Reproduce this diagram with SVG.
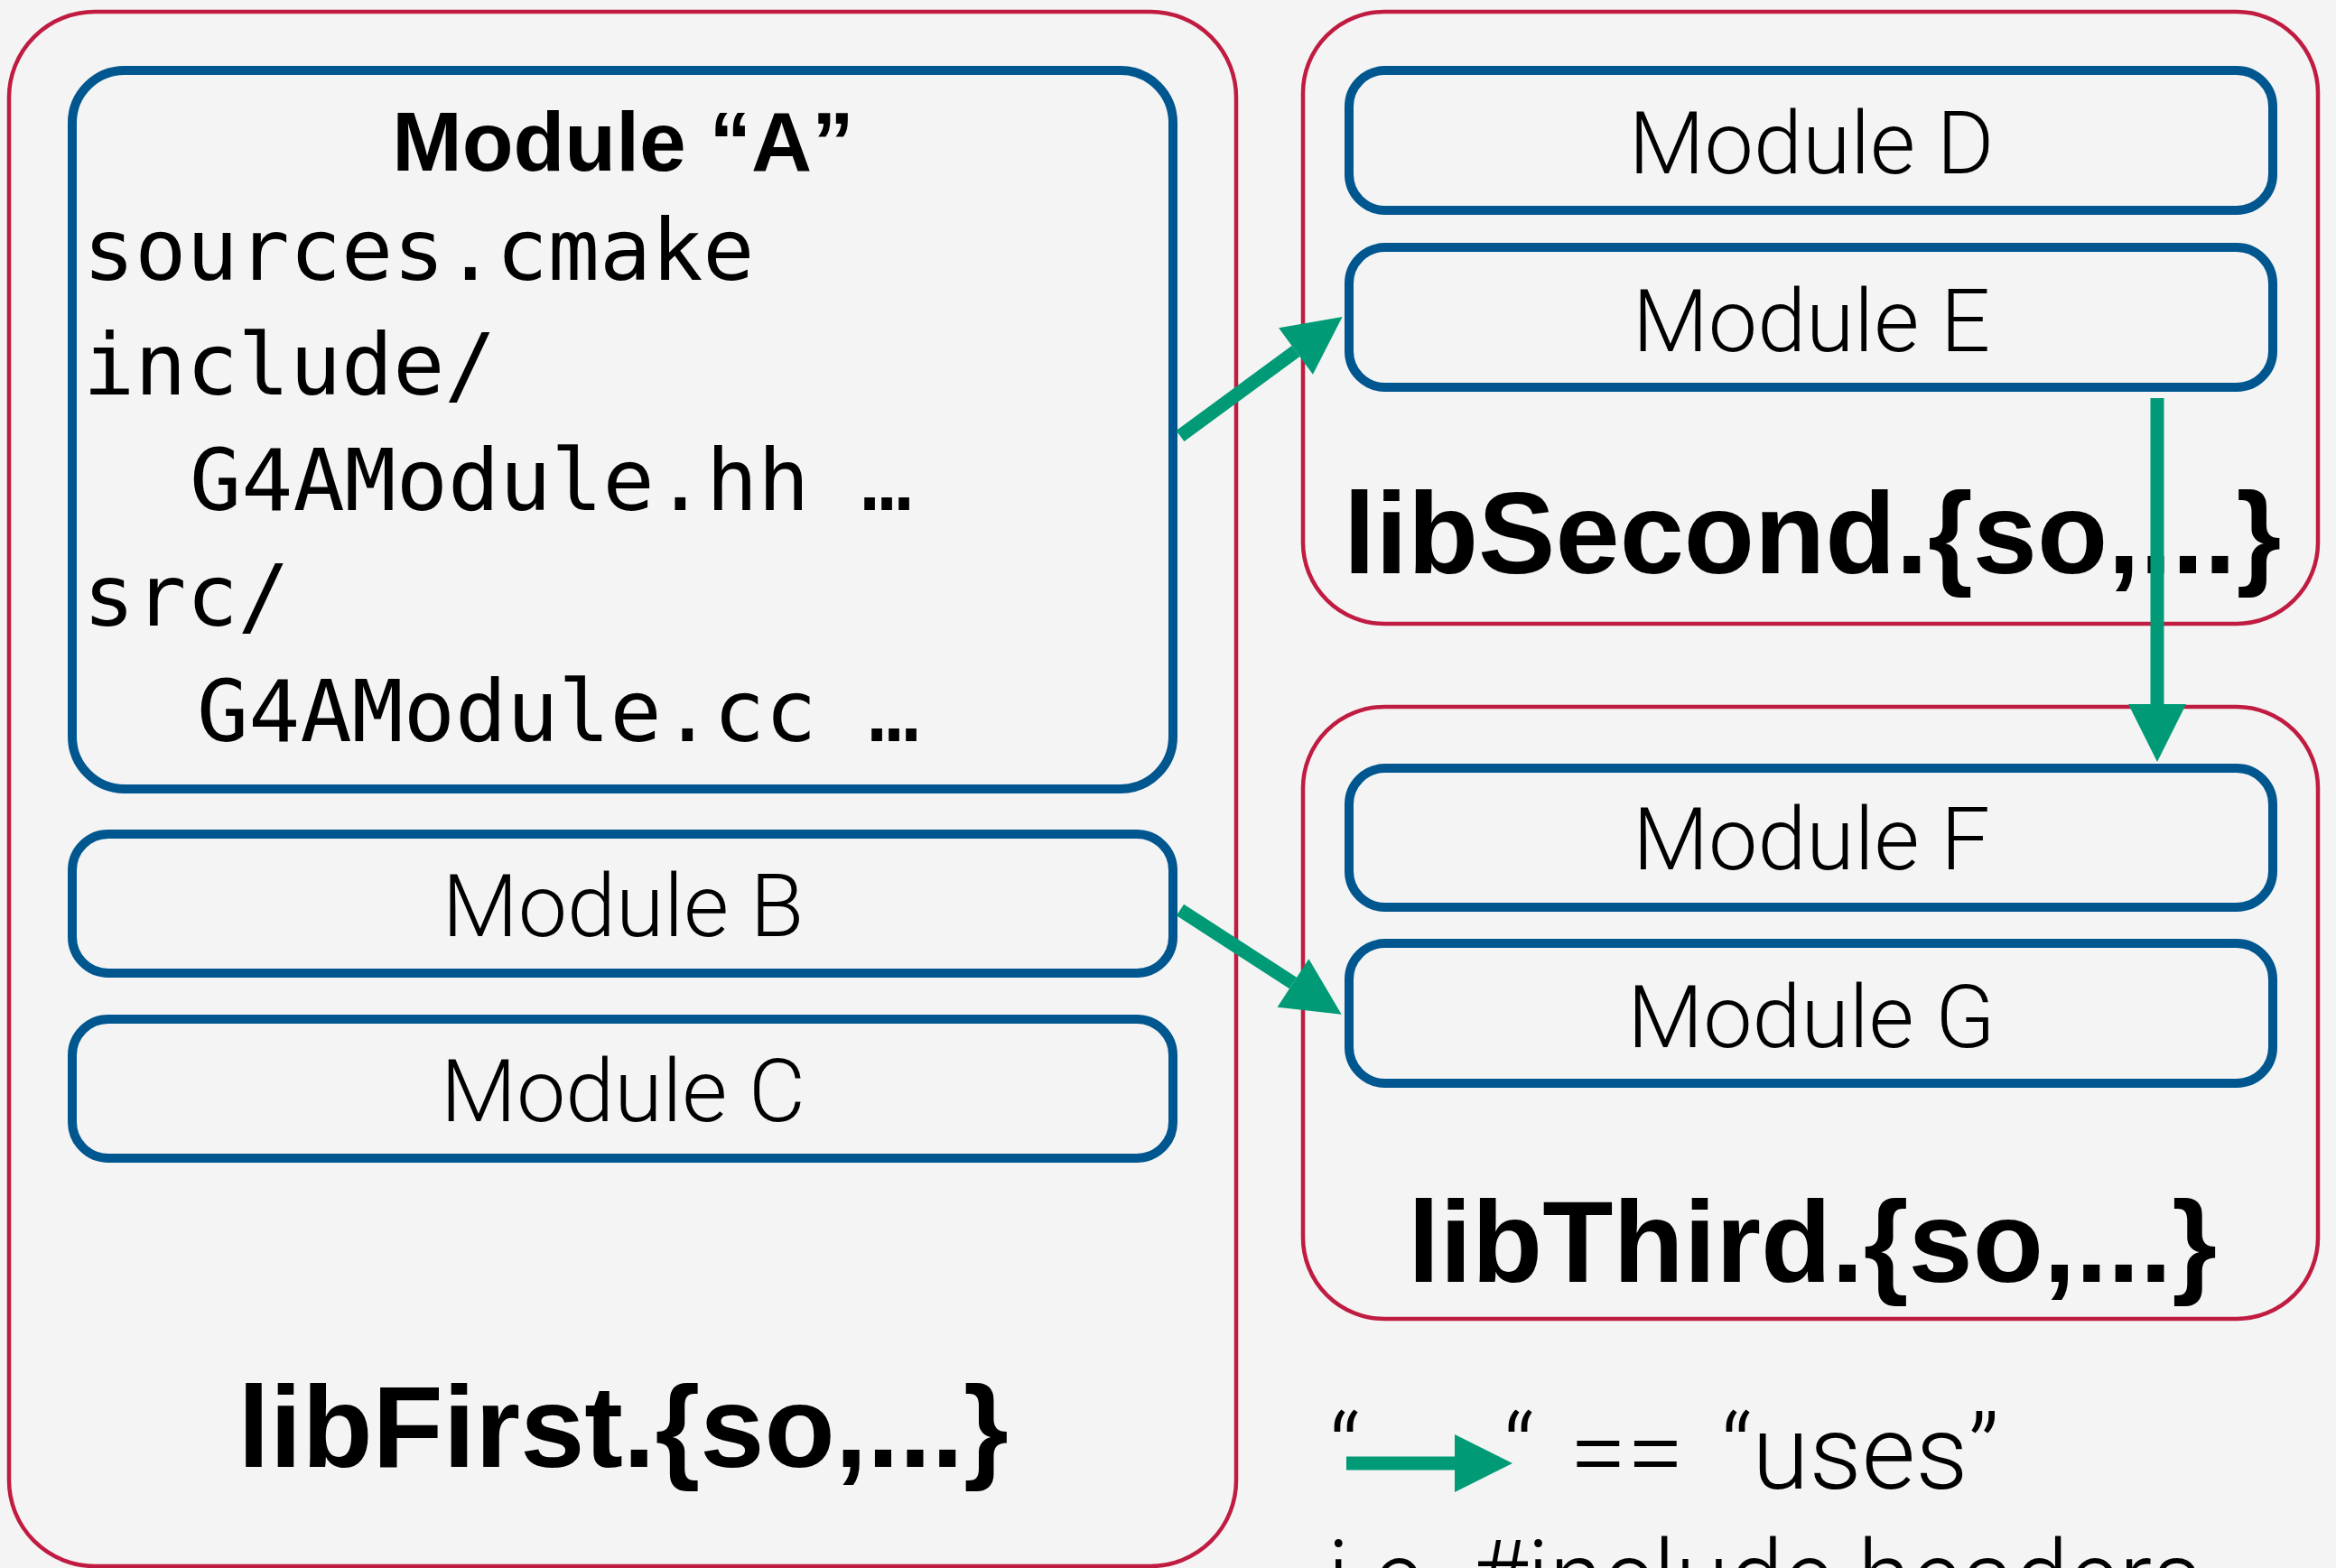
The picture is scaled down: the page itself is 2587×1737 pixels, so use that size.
<svg xmlns="http://www.w3.org/2000/svg" width="2587" height="1737" viewBox="0 0 2587 1737">
<style>
.lib{fill:none;stroke:#c01c42;stroke-width:4.5}
.mod{fill:none;stroke:#00568f;stroke-width:10}
.lbl{font-family:Roboto,"Liberation Sans",sans-serif;font-weight:300;font-size:97px;fill:#000;text-anchor:middle}
.big{font-family:"Liberation Sans",Arial,sans-serif;font-weight:bold;font-size:128px;fill:#000;text-anchor:middle}
.mono{font-family:"DejaVu Sans Mono",monospace;font-size:95px;fill:#000}
.leg{font-family:Roboto,"Liberation Sans",sans-serif;font-weight:300;font-size:115px;fill:#000}
.conn{stroke:#009b76;stroke-width:15;fill:none;stroke-linecap:butt}
</style>
<defs>
<marker id="ah" markerUnits="userSpaceOnUse" markerWidth="64" markerHeight="64" refX="0" refY="32" orient="auto" overflow="visible">
<path d="M0,0 L64,32 L0,64 Z" fill="#009b76"/>
</marker>
</defs>
<rect x="0" y="0" width="2587" height="1737" fill="#f4f4f4"/>

<g id="libFirst">
<rect class="lib" x="10" y="13" width="1359" height="1722" rx="95" ry="95"/>
<text class="big" x="690" y="1625">libFirst.{so,...}</text>
</g>
<g id="moduleA">
<rect class="mod" x="80" y="78" width="1219" height="796" rx="58" ry="58"/>
<text x="690" y="189" font-family="'Liberation Sans',Arial,sans-serif" font-weight="bold" font-size="93" text-anchor="middle">Module “A”</text>
<text class="mono" x="92" y="310">sources.cmake</text>
<text class="mono" x="92" y="437">include/</text>
<text class="mono" x="210" y="565">G4AModule.hh …</text>
<text class="mono" x="92" y="693">src/</text>
<text class="mono" x="218" y="821">G4AModule.cc …</text>
</g>
<g id="moduleB">
<rect class="mod" x="80" y="924" width="1219" height="154" rx="40" ry="40"/>
<text class="lbl" x="690" y="1037">Module B</text>
</g>
<g id="moduleC">
<rect class="mod" x="80" y="1129" width="1219" height="154" rx="40" ry="40"/>
<text class="lbl" x="690" y="1242">Module C</text>
</g>

<g id="libSecond">
<rect class="lib" x="1443" y="13" width="1124" height="678" rx="90" ry="90"/>
<text class="big" x="2007" y="635">libSecond.{so,...}</text>
</g>
<g id="moduleD">
<rect class="mod" x="1494" y="78" width="1023" height="155" rx="40" ry="40"/>
<text class="lbl" x="2006" y="192">Module D</text>
</g>
<g id="moduleE">
<rect class="mod" x="1494" y="274" width="1023" height="155" rx="40" ry="40"/>
<text class="lbl" x="2006" y="389">Module E</text>
</g>

<g id="libThird">
<rect class="lib" x="1443" y="783" width="1124" height="678" rx="90" ry="90"/>
<text class="big" x="2007" y="1420">libThird.{so,...}</text>
</g>
<g id="moduleF">
<rect class="mod" x="1494" y="851" width="1023" height="154" rx="40" ry="40"/>
<text class="lbl" x="2006" y="963">Module F</text>
</g>
<g id="moduleG">
<rect class="mod" x="1494" y="1045" width="1023" height="155" rx="40" ry="40"/>
<text class="lbl" x="2006" y="1160">Module G</text>
</g>

<g id="connectors">
<line class="conn" x1="1307" y1="483" x2="1435" y2="389" marker-end="url(#ah)"/>
<line class="conn" x1="1307" y1="1008" x2="1432" y2="1089" marker-end="url(#ah)"/>
<line class="conn" x1="2389" y1="441" x2="2389" y2="780" stroke-width="16" marker-end="url(#ah)"/>
</g>

<g id="legend">
<text class="leg" x="1472" y="1649">“</text>
<line class="conn" x1="1491" y1="1621" x2="1611" y2="1621" stroke-width="16" marker-end="url(#ah)"/>
<text class="leg" x="1665" y="1649">“</text>
<text class="leg" x="1738" y="1649">==</text>
<text class="leg" x="1906" y="1649">“uses”</text>
<text class="leg" x="1470" y="1788" textLength="968" lengthAdjust="spacingAndGlyphs">i.e. #include headers</text>
</g>
</svg>
